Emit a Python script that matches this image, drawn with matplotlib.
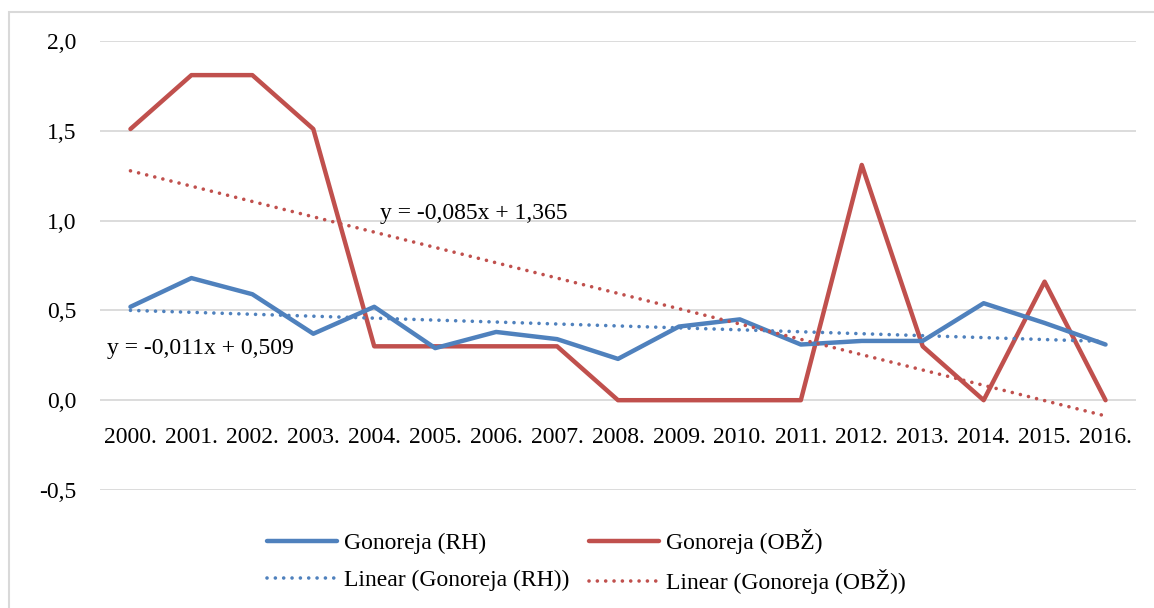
import numpy as np
import matplotlib
matplotlib.use('Agg')
import matplotlib.pyplot as plt
from matplotlib.ticker import FuncFormatter, MultipleLocator
from matplotlib.patches import Rectangle

# data
years    = ['2000.', '2001.', '2002.', '2003.', '2004.', '2005.', '2006.', '2007.', '2008.',
            '2009.', '2010.', '2011.', '2012.', '2013.', '2014.', '2015.', '2016.']
rh_vals  = [0.52, 0.68, 0.59, 0.37, 0.52, 0.29, 0.38, 0.34, 0.23,
            0.41, 0.45, 0.31, 0.33, 0.33, 0.54, 0.43, 0.31]
obz_vals = [1.51, 1.81, 1.81, 1.51, 0.30, 0.30, 0.30, 0.30, 0.0,
            0.0, 0.0, 0.0, 1.31, 0.30, 0.0, 0.66, 0.0]
rh_eq    = 'y = -0,011x + 0,509'
obz_eq   = 'y = -0,085x + 1,365'

blue = '#4F81BD'
red  = '#C0504D'

plt.rcParams['font.family'] = ['Liberation Serif', 'DejaVu Serif']
plt.rcParams['font.size'] = 17

fig = plt.figure(figsize=(11.54, 6.08), dpi=100)
ax  = fig.add_axes([100/1154, 1-490/608, 1036/1154, 449/608])

x = np.arange(len(years))
# excel style linear trend (x = 1..n)
k_rh, b_rh   = np.polyfit(x + 1, rh_vals, 1)
k_obz, b_obz = np.polyfit(x + 1, obz_vals, 1)

dots = (0, (0.01, 2.3))
l1, = ax.plot(x, rh_vals, color=blue, lw=3.2, solid_joinstyle='round', solid_capstyle='round', zorder=4)
l2, = ax.plot(x, obz_vals, color=red, lw=3.2, solid_joinstyle='round', solid_capstyle='round', zorder=3)
l3, = ax.plot(x, k_rh*(x+1) + b_rh, color=blue, lw=2.6, ls=dots, dash_capstyle='round', zorder=5)
l4, = ax.plot(x, k_obz*(x+1) + b_obz, color=red, lw=2.6, ls=dots, dash_capstyle='round', zorder=5)

ax.text(4.1, 1.04, obz_eq, ha='left', va='center', fontsize=17)
ax.text(-0.39, 0.29, rh_eq, ha='left', va='center', fontsize=17)

ax.set_xlim(-0.5, len(years) - 0.5)
ax.set_ylim(-0.5, 2.0)
ax.yaxis.set_major_locator(MultipleLocator(0.5))
ax.yaxis.set_major_formatter(FuncFormatter(lambda v, p: f'{v:.1f}'.replace('.', ',')))
ax.grid(axis='y', color='#D9D9D9', lw=1.3)
ax.set_axisbelow(True)

ax.set_xticks(x)
ax.set_xticklabels(years)
ax.spines['bottom'].set_position(('data', 0))
for s in ax.spines.values():
    s.set_visible(False)
ax.tick_params(axis='both', length=0)
ax.tick_params(axis='x', pad=19)
ax.tick_params(axis='y', pad=17)

fig.legend([l1, l3, l2, l4],
           ['Gonoreja (RH)', 'Linear (Gonoreja (RH))', 'Gonoreja (OBŽ)', 'Linear (Gonoreja (OBŽ))'],
           ncol=2, loc='center', bbox_to_anchor=(0.508, 0.076), frameon=False,
           handlelength=2.95, handletextpad=0.3, columnspacing=0.85, labelspacing=0.65)

fig.patches.append(Rectangle((9/1154, -0.05), 1.1, 1 - 12/608 + 0.05, transform=fig.transFigure,
                             fill=False, edgecolor='#D9D9D9', lw=1.5))

fig.savefig('out.png', dpi=100)
